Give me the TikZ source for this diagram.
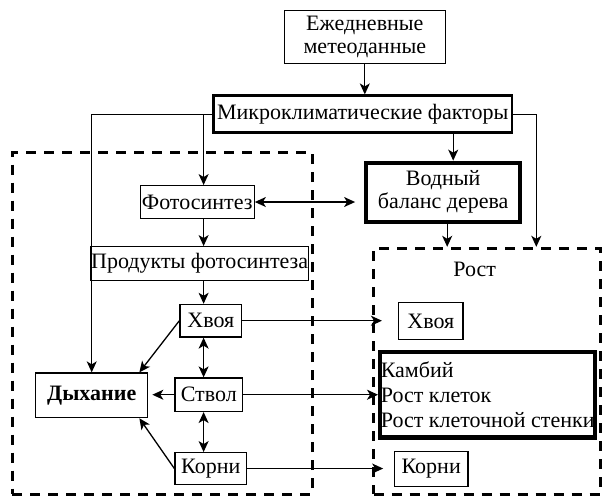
\documentclass[tikz,border=0pt]{standalone}
\usepackage{fontspec}
\setmainfont{Liberation Serif}
\usetikzlibrary{arrows.meta}

\begin{document}
\begin{tikzpicture}[x=0.5pt, y=-0.5pt,
  font=\fontsize{11}{11.5}\selectfont,
  >={Stealth[length=5.5pt, width=5pt, inset=1.5pt]},
  box/.style={draw, line width=0.65pt, inner sep=0pt, align=center},
  thickbox/.style={box, line width=1.4pt},
  heavybox/.style={box, line width=2.1pt},
  frame/.style={draw, line width=1.5pt, dash pattern=on 5pt off 4pt},
  arr/.style={line width=0.65pt, ->},
  darr/.style={line width=0.65pt, <->}]
  \useasboundingbox (0,0) rectangle (603,495);

  \node[frame, minimum width=149.9pt, minimum height=171pt] (life) at (162.2,323.3) {};
  \node[frame, minimum width=113.3pt, minimum height=122.9pt] (growth) at (487,371.2) {};
  \node (rost) at (474.7,269.7) {Рост};

  \node[box, minimum width=80.5pt, minimum height=26.3pt] (meteo) at (364.8,37) {Ежедневные\\метеоданные};
  \node[thickbox, minimum width=149.3pt, minimum height=18.5pt] (micro) at (362.7,114.3) {Микроклиматические факторы};
  \node[box, minimum width=57pt, minimum height=16.3pt] (photo) at (197.2,202) {Фотосинтез};
  \node[heavybox, minimum width=77pt, minimum height=29.5pt] (water) at (443.2,192.2) {Водный\\баланс дерева};
  \node[box, minimum width=108.6pt, minimum height=16.8pt] (prod) at (199.7,263.5) {Продукты фотосинтеза};
  \node[box, minimum width=30.8pt, minimum height=16.3pt] (hvoya) at (210.8,320.7) {Хвоя};
  \node[box, minimum width=33.8pt, minimum height=16.7pt] (stvol) at (208.8,394.7) {Ствол};
  \node[box, minimum width=35.8pt, minimum height=15.8pt] (korni) at (210.8,468.5) {Корни};
  \node[box, minimum width=56pt, minimum height=22.3pt, font=\fontsize{11}{11.5}\selectfont\bfseries] (resp) at (91.7,395.3) {Дыхание};
  \node[box, minimum width=32.2pt, minimum height=18.3pt] (hvoyaG) at (430.8,321) {Хвоя};
  \node[heavybox, align=left, minimum width=107.6pt, minimum height=42.7pt, font=\fontsize{11}{12.5}\selectfont] (cells) at (487.7,394.7) {Камбий\\Рост клеток\\Рост клеточной стенки};
  \node[box, minimum width=36.8pt, minimum height=17.2pt] (korniG) at (431.2,469) {Корни};

  \coordinate (col) at (203.6,0);
  \coordinate (rcol) at (536.3,0);

  \draw[arr] (meteo.south) -- (meteo.south |- micro.north);
  \draw[arr] (micro.west) -| (resp.north);
  \draw[arr] (micro.west -| col) -- (photo.north -| col);
  \draw[arr] (micro.east) -| (growth.north -| rcol);
  \draw[arr] ([xshift=5pt]water.north |- micro.south) -- ([xshift=5pt]water.north);
  \draw[arr] ([xshift=2pt]water.south) -- ([xshift=2pt]water.south |- growth.north);
  \draw[darr, shorten >=4.5pt] (photo.east) -- (photo.east -| water.west);
  \draw[arr] (photo.south -| col) -- (prod.north -| col);
  \draw[arr] (prod.south -| col) -- (hvoya.north -| col);
  \draw[darr] (hvoya.south -| col) -- (stvol.north -| col);
  \draw[darr] (stvol.south -| col) -- (korni.north -| col);
  \draw[arr] (hvoya.west) -- ([xshift=-4.5pt]resp.north east);
  \draw[arr, shorten >=2pt] (stvol.west) -- (stvol.west -| resp.east);
  \draw[arr] (korni.west) -- ([xshift=-4.5pt]resp.south east);
  \draw[arr, shorten >=8pt] (hvoya.east) -- (hvoya.east -| hvoyaG.west);
  \draw[arr] (stvol.east) -- (stvol.east -| cells.west);
  \draw[arr, shorten >=5.3pt] (korni.east) -- (korni.east -| korniG.west);
\end{tikzpicture}
\end{document}
